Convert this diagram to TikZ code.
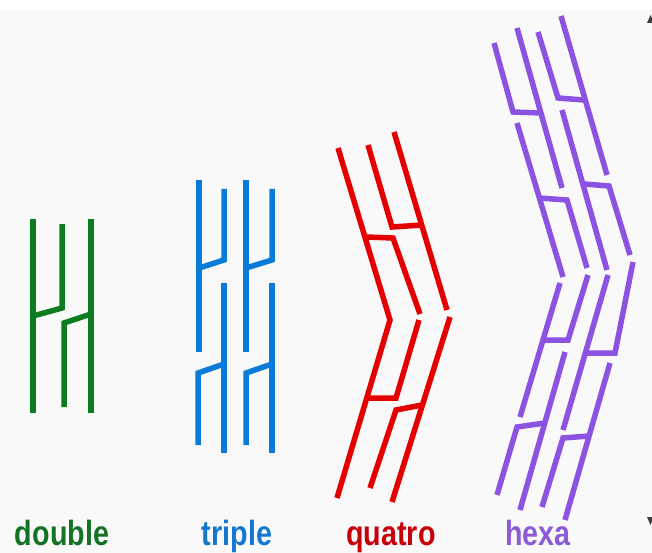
\documentclass[tikz,border=0pt]{standalone}
\usepackage{fontspec}
\setmainfont{Liberation Sans}
\definecolor{dgreen}{RGB}{12,125,30}
\definecolor{dgreentext}{RGB}{20,115,35}
\definecolor{sblue}{RGB}{10,122,218}
\definecolor{sbluetext}{RGB}{20,120,210}
\definecolor{sred}{RGB}{228,0,0}
\definecolor{sredtext}{RGB}{200,0,10}
\definecolor{spurple}{RGB}{140,82,226}
\definecolor{spurpletext}{RGB}{140,92,216}
\definecolor{paper}{RGB}{249,249,249}
\tikzset{
  strand/.style={line width=5.5pt, line cap=butt, line join=miter},
  caption/.style={anchor=base, inner sep=0pt,
    font=\fontsize{35}{38}\selectfont\bfseries},
}
\newcommand{\narrow}[1]{\scalebox{0.82}[1]{#1}}
\begin{document}
\begin{tikzpicture}[x=1pt,y=-1pt]
  \useasboundingbox (0,0) rectangle (652,553);
  \fill[white] (0,0) rectangle (652,553);
  \fill[paper] (0,10) rectangle (652,553);
  % scroll marks on the right edge
  \fill[black!75] (647,23) -- (650.5,15) -- (654,23) -- cycle;
  \fill[black!75] (647,517) -- (654,517) -- (650.5,525) -- cycle;

  % double
  \begin{scope}[strand, draw=dgreen]
    \draw (33,219) -- (33,413);
    \draw (62,224) -- (62,308) -- (33,316);
    \draw (91,219) -- (91,413);
    \draw (64,407) -- (64,323) -- (91,314);
  \end{scope}

  % triple
  \begin{scope}[strand, draw=sblue]
    \draw (199,180) -- (199,352);
    \draw (224,189) -- (224,260) -- (199,268);
    \draw (246,180) -- (246,352);
    \draw (272,189) -- (272,260) -- (246,268);
    \draw (224,283) -- (224,453);
    \draw (198,445) -- (198,373) -- (224,364);
    \draw (272,283) -- (272,453);
    \draw (246,445) -- (246,373) -- (272,364);
  \end{scope}

  % quatro
  \begin{scope}[strand, draw=sred]
    \draw (338,148) -- (390,320) -- (337,498);
    \draw (368,145) -- (392,227) -- (422,225);
    \draw (394,132) -- (447,310);
    \draw (366,237) -- (393,238) -- (420,314);
    \draw (419,320) -- (396,398) -- (367,398);
    \draw (422,405) -- (396,410) -- (370,488);
    \draw (450,317) -- (392,502);
  \end{scope}

  % hexa
  \begin{scope}[strand, draw=spurple]
    % upper half
    \draw (494,43) -- (513,112) -- (541,113);
    \draw (517,28) -- (562,188);
    \draw (538,32) -- (558,98) -- (584,100);
    \draw (561,16) -- (607,175);
    \draw (517,123) -- (563,277);
    \draw (539,198) -- (567,200) -- (587,268);
    \draw (562,110) -- (607,270);
    \draw (584,184) -- (609,186) -- (630,255);
    % lower half
    \draw (560,283) -- (520,417);
    \draw (588,275) -- (568,340) -- (542,340);
    \draw (565,352) -- (520,510);
    \draw (545,423) -- (517,427) -- (497,495);
    \draw (608,275) -- (563,430);
    \draw (633,262) -- (615,353) -- (587,353);
    \draw (610,363) -- (565,520);
    \draw (589,436) -- (563,438) -- (542,507);
  \end{scope}

  % captions
  \node[caption, text=dgreentext] (lbldouble) at (62,545) {\narrow{double}};
  \node[caption, text=sbluetext] (lbltriple) at (237,545) {\narrow{triple}};
  \node[caption, text=sredtext] (lblquatro) at (391,545) {\narrow{quatro}};
  \node[caption, text=spurpletext] (lblhexa) at (538,545) {\narrow{hexa}};
\end{tikzpicture}
\end{document}
